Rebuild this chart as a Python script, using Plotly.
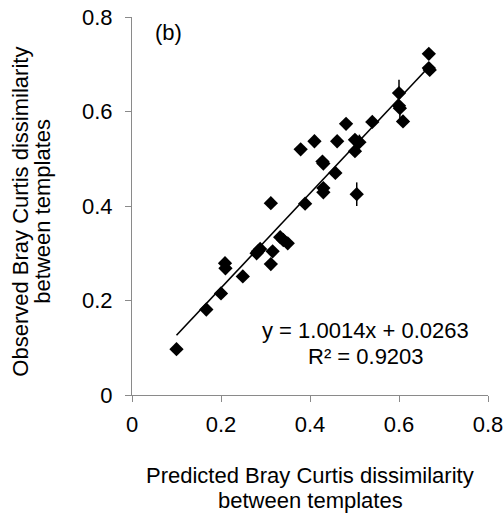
import plotly.graph_objects as go

# Predicted vs observed Bray Curtis dissimilarity between templates
predicted = [0.100, 0.167, 0.200, 0.209, 0.210, 0.249, 0.280, 0.288, 0.283,
             0.312, 0.316, 0.312, 0.333, 0.350, 0.340, 0.389, 0.379, 0.410,
             0.428, 0.430, 0.430, 0.430, 0.457, 0.461, 0.481, 0.501, 0.501,
             0.511, 0.505, 0.540, 0.600, 0.600, 0.602, 0.609, 0.667, 0.667,
             0.669]
observed = [0.097, 0.181, 0.215, 0.279, 0.268, 0.251, 0.300, 0.309, 0.304,
            0.277, 0.304, 0.406, 0.334, 0.321, 0.328, 0.405, 0.520, 0.537,
            0.494, 0.490, 0.438, 0.429, 0.470, 0.537, 0.574, 0.540, 0.516,
            0.535, 0.425, 0.578, 0.639, 0.612, 0.607, 0.579, 0.722, 0.692,
            0.688]
err_up = [0.0, 0.0, 0.0, 0.0, 0.0, 0.0, 0.0, 0.0, 0.0,
          0.0, 0.0, 0.0, 0.0, 0.0, 0.0, 0.0, 0.0, 0.0,
          0.0, 0.0, 0.0, 0.0, 0.0, 0.0, 0.0, 0.0, 0.0,
          0.016, 0.025, 0.0, 0.028, 0.0, 0.0, 0.0, 0.0, 0.0,
          0.0]
err_down = [0.0, 0.0, 0.0, 0.0, 0.0, 0.0, 0.0, 0.0, 0.0,
            0.0, 0.0, 0.0, 0.0, 0.0, 0.0, 0.0, 0.0, 0.0,
            0.0, 0.0, 0.0, 0.0, 0.0, 0.0, 0.0, 0.0, 0.0,
            0.0, 0.025, 0.0, 0.0, 0.0, 0.025, 0.0, 0.0, 0.0,
            0.0]

slope = 1.0014
intercept = 0.0263
r_squared = 0.9203
fit_x = [min(predicted), max(predicted)]
fit_y = [slope * v + intercept for v in fit_x]

tick_vals = [0, 0.2, 0.4, 0.6, 0.8]
tick_text = ["0", "0.2", "0.4", "0.6", "0.8"]

x_title_lines = ["Predicted Bray Curtis dissimilarity", "between templates"]
y_title_lines = ["Observed Bray Curtis dissimilarity", "between templates"]

font_family = "Liberation Sans, Arial, sans-serif"
fs = 22
text_font = dict(size=fs, color="black", family=font_family)

fig = go.Figure()
fig.add_trace(go.Scatter(
    x=predicted, y=observed, mode="markers",
    marker=dict(symbol="diamond", size=11, color="black"),
    error_y=dict(type="data", symmetric=False, array=err_up,
                 arrayminus=err_down, color="black", thickness=1.5, width=0),
    showlegend=False, cliponaxis=False,
))
fig.add_trace(go.Scatter(
    x=fit_x, y=fit_y, mode="lines",
    line=dict(color="black", width=1.6), showlegend=False,
))

# panel label
fig.add_annotation(x=0.081, y=0.768, text="(b)", showarrow=False,
                   font=text_font, xanchor="center", yanchor="middle")

# regression equation, one annotation per line
eq_lines = [f"y = {slope:.4f}x + {intercept:.4f}", f"R² = {r_squared:.4f}"]
for txt, yv in zip(eq_lines, [0.137, 0.082]):
    fig.add_annotation(x=0.5256, y=yv, text=txt, showarrow=False,
                       font=text_font, xanchor="center", yanchor="middle")

# axis titles, placed in pixel offsets from the plot area
for txt, dy in zip(x_title_lines, [-80, -105]):
    fig.add_annotation(x=0.5, xref="paper", y=0, yref="paper", yshift=dy,
                       text=txt, showarrow=False, font=text_font,
                       xanchor="center", yanchor="middle")
for txt, dx in zip(y_title_lines, [-111, -89]):
    fig.add_annotation(x=0, xref="paper", y=0.485, yref="paper", xshift=dx,
                       text=txt, showarrow=False, font=text_font,
                       textangle=-90, xanchor="center", yanchor="middle")

axis_common = dict(
    showgrid=False, zeroline=False, showline=True, linecolor="#8a8a8a",
    linewidth=1, ticks="outside", ticklen=6, tickcolor="#8a8a8a",
    tickvals=tick_vals, ticktext=tick_text, range=[0, 0.8],
    tickfont=text_font, automargin=False,
)

fig.update_layout(
    width=504, height=515,
    margin=dict(l=132, r=16, t=17, b=120),
    paper_bgcolor="white", plot_bgcolor="white",
    font=dict(family=font_family, color="black"),
    xaxis=dict(ticklabelstandoff=4, **axis_common),
    yaxis=dict(ticklabelstandoff=8, **axis_common),
)

fig.write_html("out.html")
